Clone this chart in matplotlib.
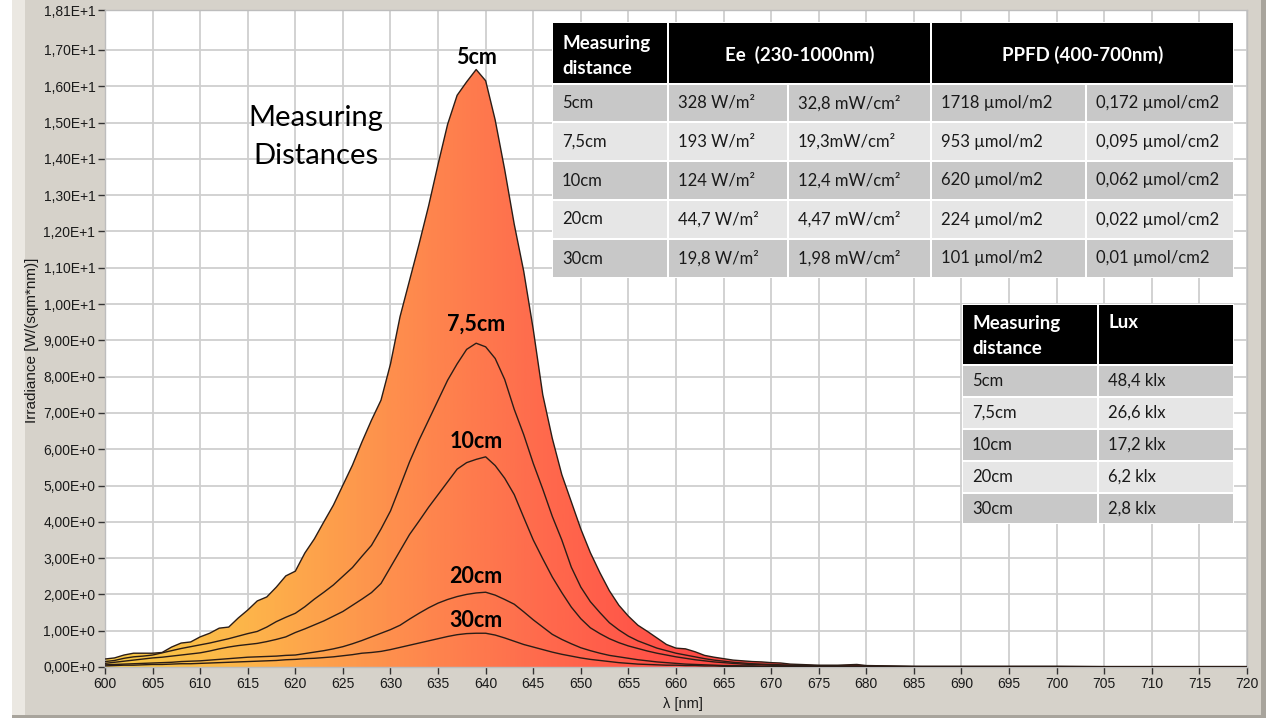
import numpy as np
import matplotlib

matplotlib.use("Agg")
import matplotlib.pyplot as plt
from matplotlib.colors import LinearSegmentedColormap
from matplotlib.patches import Polygon, Rectangle

# wavelength grid [nm]
wavelengths = list(range(600, 681)) + [685, 690, 695, 700, 705, 710, 715, 720]

# irradiance [W/(sqm*nm)] per measuring distance
irr_5cm = [
    0.22, 0.25, 0.33, 0.38, 0.38, 0.38, 0.40, 0.55, 0.66, 0.69,
    0.83, 0.93, 1.07, 1.10, 1.35, 1.57, 1.82, 1.93, 2.20, 2.51,
    2.64, 3.14, 3.53, 4.00, 4.46, 5.01, 5.56, 6.20, 6.80, 7.35,
    8.35, 9.65, 10.65, 11.65, 12.70, 13.85, 14.95, 15.75, 16.12, 16.46,
    16.15, 15.07, 13.70, 12.20, 10.90, 9.30, 7.50, 6.30, 5.30, 4.55,
    3.80, 3.15, 2.60, 2.10, 1.70, 1.40, 1.15, 0.98, 0.80, 0.62,
    0.52, 0.50, 0.42, 0.32, 0.27, 0.23, 0.19, 0.17, 0.15, 0.14,
    0.12, 0.11, 0.08, 0.07, 0.06, 0.05, 0.05, 0.05, 0.06, 0.07,
    0.04,
    0.02, 0.02, 0.02, 0.02, 0.01, 0.01, 0.01, 0.01,
]
irr_7_5cm = [
    0.15, 0.18, 0.24, 0.28, 0.30, 0.33, 0.39, 0.45, 0.51, 0.56,
    0.61, 0.66, 0.72, 0.78, 0.85, 0.92, 0.98, 1.10, 1.25, 1.37,
    1.48, 1.66, 1.87, 2.06, 2.26, 2.50, 2.74, 3.05, 3.35, 3.80,
    4.30, 4.97, 5.65, 6.25, 6.80, 7.35, 7.90, 8.35, 8.75, 8.92,
    8.82, 8.50, 7.92, 7.10, 6.40, 5.61, 4.90, 4.15, 3.50, 2.75,
    2.20, 1.80, 1.50, 1.22, 1.02, 0.85, 0.72, 0.62, 0.52, 0.45,
    0.38, 0.33, 0.28, 0.23, 0.19, 0.16, 0.13, 0.11, 0.09, 0.08,
    0.07, 0.06, 0.05, 0.04, 0.04, 0.03, 0.03, 0.03, 0.03, 0.03,
    0.02,
    0.01, 0.01, 0.01, 0.01, 0.01, 0.01, 0.01, 0.01,
]
irr_10cm = [
    0.10, 0.13, 0.16, 0.19, 0.22, 0.25, 0.27, 0.30, 0.33, 0.36,
    0.39, 0.44, 0.50, 0.55, 0.59, 0.62, 0.65, 0.70, 0.76, 0.83,
    0.95, 1.05, 1.16, 1.27, 1.40, 1.53, 1.70, 1.87, 2.05, 2.30,
    2.75, 3.20, 3.65, 4.02, 4.40, 4.75, 5.10, 5.45, 5.63, 5.72,
    5.79, 5.55, 5.20, 4.75, 4.12, 3.50, 2.98, 2.48, 2.05, 1.65,
    1.33, 1.08, 0.92, 0.78, 0.67, 0.58, 0.51, 0.44, 0.38, 0.33,
    0.28, 0.24, 0.20, 0.17, 0.14, 0.12, 0.10, 0.08, 0.07, 0.06,
    0.05, 0.04, 0.04, 0.03, 0.03, 0.02, 0.02, 0.02, 0.02, 0.02,
    0.02,
    0.01, 0.01, 0.01, 0.01, 0.01, 0.01, 0.01, 0.01,
]
irr_20cm = [
    0.06, 0.07, 0.08, 0.09, 0.10, 0.11, 0.12, 0.13, 0.15, 0.16,
    0.17, 0.19, 0.21, 0.23, 0.25, 0.27, 0.28, 0.29, 0.30, 0.32,
    0.33, 0.37, 0.41, 0.45, 0.50, 0.56, 0.64, 0.73, 0.83, 0.93,
    1.03, 1.15, 1.32, 1.48, 1.63, 1.76, 1.86, 1.94, 2.00, 2.04,
    2.06, 1.98, 1.86, 1.73, 1.52, 1.30, 1.10, 0.90, 0.76, 0.64,
    0.53, 0.45, 0.38, 0.32, 0.28, 0.24, 0.20, 0.17, 0.14, 0.12,
    0.10, 0.08, 0.07, 0.06, 0.05, 0.04, 0.04, 0.03, 0.03, 0.02,
    0.02, 0.02, 0.02, 0.02, 0.01, 0.01, 0.01, 0.01, 0.01, 0.01,
    0.01,
    0.01, 0.00, 0.00, 0.00, 0.00, 0.00, 0.00, 0.00,
]
irr_30cm = [
    0.03, 0.04, 0.05, 0.05, 0.06, 0.07, 0.07, 0.08, 0.09, 0.09,
    0.10, 0.11, 0.12, 0.13, 0.14, 0.15, 0.16, 0.17, 0.18, 0.20,
    0.21, 0.23, 0.24, 0.26, 0.28, 0.31, 0.34, 0.38, 0.40, 0.43,
    0.48, 0.54, 0.60, 0.66, 0.72, 0.78, 0.84, 0.89, 0.92, 0.93,
    0.93, 0.88, 0.80, 0.71, 0.62, 0.55, 0.48, 0.41, 0.35, 0.30,
    0.25, 0.21, 0.18, 0.15, 0.12, 0.10, 0.08, 0.07, 0.06, 0.05,
    0.05, 0.04, 0.04, 0.03, 0.03, 0.02, 0.02, 0.02, 0.02, 0.01,
    0.01, 0.01, 0.01, 0.01, 0.01, 0.01, 0.01, 0.01, 0.01, 0.01,
    0.01,
    0.00, 0.00, 0.00, 0.00, 0.00, 0.00, 0.00, 0.00,
]

series = [irr_5cm, irr_7_5cm, irr_10cm, irr_20cm, irr_30cm]
curve_labels = ["5cm", "7,5cm", "10cm", "20cm", "30cm"]
label_pos = [(639, 16.8), (639, 9.45), (639, 6.2), (639, 2.48), (639, 1.29)]

# table contents
dist_labels = ["5cm", "7,5cm", "10cm", "20cm", "30cm"]
ee_wm2 = ["328 W/m²", "193 W/m²", "124 W/m²", "44,7 W/m²", "19,8 W/m²"]
ee_mwcm2 = ["32,8 mW/cm²", "19,3mW/cm²", "12,4 mW/cm²", "4,47 mW/cm²", "1,98 mW/cm²"]
ppfd_m2 = ["1718 µmol/m2", "953 µmol/m2", "620 µmol/m2", "224 µmol/m2", "101 µmol/m2"]
ppfd_cm2 = ["0,172 µmol/cm2", "0,095 µmol/cm2", "0,062 µmol/cm2", "0,022 µmol/cm2", "0,01 µmol/cm2"]
lux_values = ["48,4 klx", "26,6 klx", "17,2 klx", "6,2 klx", "2,8 klx"]

y_ticks = [0, 1, 2, 3, 4, 5, 6, 7, 8, 9, 10, 11, 12, 13, 14, 15, 16, 17, 18.1]
x_ticks = list(range(600, 721, 5))

W, H = 1280, 720
fig = plt.figure(figsize=(12.8, 7.2), dpi=100, facecolor="white")

# window-like frame behind everything
bg = fig.add_axes([0, 0, 1, 1], zorder=-2)
bg.set_xlim(0, W)
bg.set_ylim(H, 0)
bg.axis("off")
bg.add_patch(Rectangle((12, 0), 1254, 718, facecolor="#a8a49c", edgecolor="none"))
bg.add_patch(Rectangle((12, 0), 1249, 715, facecolor="#d6d2ca", edgecolor="none"))
bg.add_patch(Rectangle((12, 0), 13, 715, facecolor="#ebe8e2", edgecolor="none"))

# main plot
ax = fig.add_axes([105 / W, (H - 667) / H, (1247 - 105) / W, (667 - 10) / H], zorder=1)
ax.set_facecolor("white")
ax.set_xlim(600, 720)
ax.set_ylim(0, 18.1)
ax.set_axisbelow(True)
ax.grid(True, color="#cfcfcf", lw=1.3)
for s in ax.spines.values():
    s.set_color("#bdbdbd")
    s.set_linewidth(1.0)

# gradient fill under the outer curve
stops = [(0.0, "#f8cb45"), (15 / 120, "#fdb44a"), (30 / 120, "#fe8f4d"),
         (45 / 120, "#ff6c4d"), (60 / 120, "#ff4e47"), (80 / 120, "#ff3838"), (1.0, "#ff2222")]
cmap = LinearSegmentedColormap.from_list("spectrum", stops)
grad = np.linspace(0, 1, 600).reshape(1, -1)
im = ax.imshow(grad, extent=[600, 720, 0, 18.1], aspect="auto", cmap=cmap, zorder=2,
               interpolation="bilinear")
verts = list(zip(wavelengths, irr_5cm)) + [(720, 0), (600, 0)]
clip = Polygon(verts, closed=True, facecolor="none", edgecolor="none", transform=ax.transData)
ax.add_patch(clip)
im.set_clip_path(clip)

for vals in series:
    ax.plot(wavelengths, vals, color="#2b1d16", lw=1.0, zorder=3)

for text, (x, y) in zip(curve_labels, label_pos):
    ax.text(x, y, text, ha="center", va="center", fontsize=15.5, fontweight="bold",
            family="Lato", color="black", zorder=4)

ax.text(622.2, 14.6, "Measuring\nDistances", ha="center", va="center", fontsize=21,
        family="Lato", color="black", linespacing=1.55, zorder=4)


def fmt_sci(v):
    e = 1 if v >= 10 else 0
    return f"{v / 10 ** e:.2f}".replace(".", ",") + f"E+{e}"


ax.set_yticks(y_ticks)
ax.set_yticklabels([fmt_sci(v) for v in y_ticks])
ax.set_xticks(x_ticks)
ax.set_xticklabels([str(v) for v in x_ticks])
ax.tick_params(axis="both", direction="out", length=5, width=1, color="#333333",
               labelsize=10, labelcolor="#1a1a1a", pad=2)
for lab in ax.get_xticklabels() + ax.get_yticklabels():
    lab.set_family("Liberation Sans")

fig.text(32 / W, 1 - 340 / H, "Irradiance [W/(sqm*nm)]", rotation=90, ha="center", va="center",
         fontsize=11, family="Liberation Sans", color="#1a1a1a")
fig.text(683 / W, 1 - 704 / H, "λ [nm]", ha="center", va="center",
         fontsize=10.5, family="Liberation Sans", color="#1a1a1a")

# tables drawn in pixel coordinates on an overlay
ov = fig.add_axes([0, 0, 1, 1], zorder=5)
ov.set_xlim(0, W)
ov.set_ylim(H, 0)
ov.axis("off")
ov.patch.set_alpha(0)

row_dark, row_light = "#c8c8c8", "#e6e6e6"
sep = 1.0


def cell(x0, x1, y0, y1, color):
    ov.add_patch(Rectangle((x0 + sep, y0 + sep), x1 - x0 - 2 * sep, y1 - y0 - 2 * sep,
                           facecolor=color, edgecolor="none"))


# main table
cols = [552, 668, 788, 931, 1086, 1234]
rows = [84, 122, 161, 200, 239, 278]
ov.add_patch(Rectangle((cols[0], 22), cols[-1] - cols[0], rows[-1] - 22, facecolor="white",
                       edgecolor="none"))
cell(cols[0], cols[1], 22, 84, "black")
cell(cols[1], cols[3], 22, 84, "black")
cell(cols[3], cols[5], 22, 84, "black")
hdr = dict(color="white", fontsize=13.5, fontweight="bold", family="Lato", va="center")
ov.text(cols[0] + 10, 43, "Measuring", ha="left", **hdr)
ov.text(cols[0] + 10, 68, "distance", ha="left", **hdr)
ov.text((cols[1] + cols[3]) / 2, 55, "Ee  (230-1000nm)", ha="center", **hdr)
ov.text((cols[3] + cols[5]) / 2, 55, "PPFD (400-700nm)", ha="center", **hdr)
columns = [dist_labels, ee_wm2, ee_mwcm2, ppfd_m2, ppfd_cm2]
for i in range(len(dist_labels)):
    color = row_dark if i % 2 == 0 else row_light
    y0, y1 = rows[i], rows[i + 1]
    for j, col in enumerate(columns):
        cell(cols[j], cols[j + 1], y0, y1, color)
        ov.text(cols[j] + 10, (y0 + y1) / 2, col[i], ha="left", va="center", fontsize=12,
                family="Lato", color="#1a1a1a")

# lux table
lcols = [962, 1098, 1234]
lrows = [365, 397, 429, 461, 493, 524]
ov.add_patch(Rectangle((lcols[0], 304), lcols[-1] - lcols[0], lrows[-1] - 304,
                       facecolor="white", edgecolor="none"))
cell(lcols[0], lcols[1], 304, 365, "black")
cell(lcols[1], lcols[2], 304, 365, "black")
ov.text(lcols[0] + 10, 323, "Measuring", ha="left", **hdr)
ov.text(lcols[0] + 10, 348, "distance", ha="left", **hdr)
ov.text(lcols[1] + 10, 323, "Lux", ha="left", **hdr)
for i in range(len(dist_labels)):
    color = row_dark if i % 2 == 0 else row_light
    y0, y1 = lrows[i], lrows[i + 1]
    for j, col in enumerate([dist_labels, lux_values]):
        cell(lcols[j], lcols[j + 1], y0, y1, color)
        ov.text(lcols[j] + 10, (y0 + y1) / 2, col[i], ha="left", va="center", fontsize=12,
                family="Lato", color="#1a1a1a")

fig.savefig("out.png", dpi=100, facecolor="white")
plt.close(fig)
